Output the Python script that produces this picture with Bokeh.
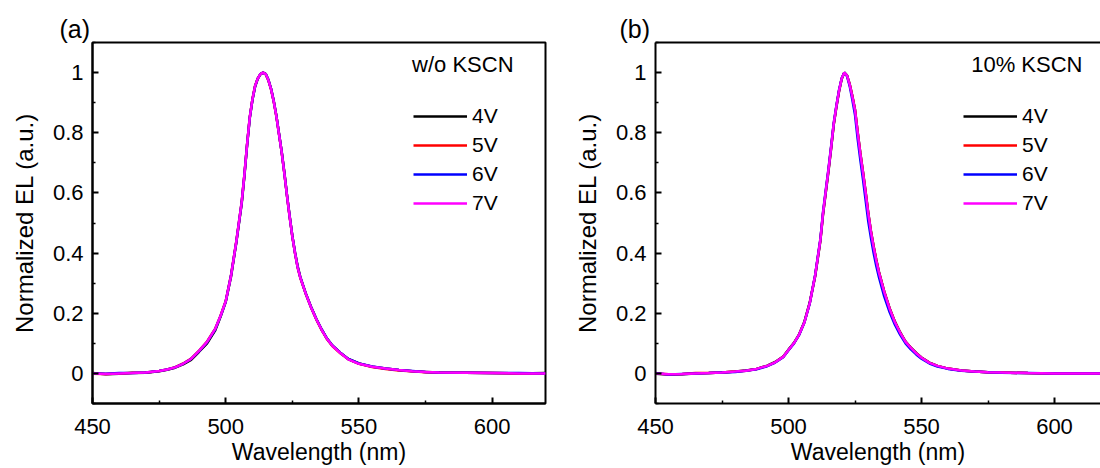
from bokeh.plotting import figure
from bokeh.models import (FixedTicker, CustomJSTickFormatter, Legend, LegendItem,
                          Label, LinearAxis, Range1d, ColumnDataSource)
from bokeh.layouts import row
from bokeh.embed import file_html
from bokeh.resources import INLINE

FONT = "Liberation Sans"

voltages = ["4V", "5V", "6V", "7V"]
colors = ["#000000", "#FF0000", "#0000FF", "#FF00FF"]
x_ticks = [450, 500, 550, 600]
x_minor = [475, 525, 575]
y_ticks = [0, 0.2, 0.4, 0.6, 0.8, 1.0]
y_minor = [-0.1, 0.1, 0.3, 0.5, 0.7, 0.9, 1.1]

# ---- panel (a): w/o KSCN ----
wl_a = [450, 455, 460, 465, 470, 475, 478, 481, 484, 487, 490, 493, 496, 498,
        500, 502, 504, 506, 507, 508, 509, 510, 511, 512, 513, 514, 515, 516,
        517, 518, 519, 520, 521, 522, 523, 524, 525, 526, 527, 528, 530, 532,
        534, 536, 538, 540, 543, 546, 550, 555, 560, 565, 570, 575, 580, 590,
        600, 610, 620]
a_4v = [0.001, -0.003, -0.001, 0.001, 0.002, 0.007, 0.012, 0.019, 0.030, 0.045, 0.072, 0.100, 0.142, 0.187,
        0.238, 0.322, 0.437, 0.565, 0.655, 0.757, 0.848, 0.908, 0.953, 0.979, 0.994, 1.000, 0.996, 0.976,
        0.947, 0.906, 0.857, 0.797, 0.737, 0.668, 0.592, 0.522, 0.457, 0.402, 0.356, 0.320, 0.267, 0.222,
        0.181, 0.146, 0.116, 0.093, 0.069, 0.048, 0.033, 0.022, 0.016, 0.011, 0.007, 0.005, 0.003, 0.002,
        0.001, 0.000, 0.001]
a_5v = [-0.001, -0.002, 0.000, 0.002, 0.003, 0.008, 0.013, 0.021, 0.033, 0.049, 0.076, 0.106, 0.148, 0.191,
        0.241, 0.328, 0.441, 0.571, 0.661, 0.761, 0.851, 0.911, 0.956, 0.981, 0.995, 1.000, 0.994, 0.974,
        0.944, 0.904, 0.854, 0.794, 0.734, 0.664, 0.589, 0.519, 0.454, 0.399, 0.351, 0.317, 0.265, 0.219,
        0.179, 0.144, 0.114, 0.091, 0.067, 0.047, 0.032, 0.021, 0.015, 0.010, 0.007, 0.004, 0.003, 0.002,
        0.001, 0.000, 0.000]
a_6v = [0.000, -0.001, 0.001, 0.001, 0.003, 0.008, 0.013, 0.020, 0.032, 0.048, 0.074, 0.104, 0.146, 0.189,
        0.239, 0.326, 0.439, 0.569, 0.659, 0.759, 0.849, 0.909, 0.954, 0.980, 0.995, 1.000, 0.995, 0.976,
        0.946, 0.906, 0.856, 0.796, 0.736, 0.666, 0.591, 0.521, 0.456, 0.401, 0.353, 0.319, 0.266, 0.221,
        0.181, 0.146, 0.116, 0.093, 0.069, 0.048, 0.033, 0.023, 0.016, 0.011, 0.008, 0.005, 0.003, 0.002,
        0.001, 0.001, 0.000]
a_7v = [0.000, -0.002, 0.000, 0.001, 0.003, 0.008, 0.013, 0.020, 0.032, 0.048, 0.075, 0.105, 0.147, 0.190,
        0.240, 0.325, 0.440, 0.570, 0.660, 0.760, 0.850, 0.910, 0.955, 0.980, 0.995, 1.000, 0.995, 0.975,
        0.945, 0.905, 0.855, 0.795, 0.735, 0.665, 0.590, 0.520, 0.455, 0.400, 0.352, 0.318, 0.266, 0.220,
        0.180, 0.145, 0.115, 0.092, 0.068, 0.047, 0.032, 0.022, 0.016, 0.011, 0.007, 0.005, 0.003, 0.002,
        0.001, 0.000, 0.000]

# ---- panel (b): 10% KSCN ----
wl_b = [450, 455, 460, 465, 470, 475, 480, 484, 488, 492, 495, 498, 500, 502, 504, 506, 508,
        510, 511, 512, 513, 514, 515, 516, 517, 518, 519, 520, 521, 522, 523, 524, 525, 526,
        527, 528, 529, 530, 531, 532, 533, 534, 536, 538, 540, 542, 544, 546, 548, 550,
        553, 556, 560, 565, 570, 575, 580, 590, 600, 610, 620]
b_4v = [-0.001, -0.004, -0.003, 0.000, 0.001, 0.003, 0.006, 0.010, 0.015, 0.026, 0.038, 0.056,
        0.079, 0.101, 0.130, 0.172, 0.236,
        0.322, 0.382, 0.442, 0.530, 0.600, 0.670, 0.746, 0.826, 0.885, 0.938, 0.979, 1.000, 0.991,
        0.962, 0.922, 0.877, 0.803, 0.733, 0.670, 0.603, 0.533, 0.473, 0.423, 0.378, 0.338,
        0.272, 0.217, 0.172, 0.136, 0.106, 0.086, 0.068, 0.053,
        0.036, 0.025, 0.016, 0.010, 0.006, 0.004, 0.003, 0.001, 0.000, 0.000, 0.001]
b_5v = [0.000, -0.003, -0.002, 0.001, 0.001, 0.003, 0.006, 0.009, 0.015, 0.025, 0.037, 0.055,
        0.078, 0.100, 0.129, 0.171, 0.235,
        0.324, 0.384, 0.444, 0.533, 0.603, 0.673, 0.748, 0.828, 0.887, 0.939, 0.980, 1.000, 0.990,
        0.961, 0.921, 0.876, 0.801, 0.731, 0.668, 0.601, 0.531, 0.471, 0.421, 0.376, 0.336,
        0.271, 0.216, 0.171, 0.135, 0.105, 0.085, 0.067, 0.052,
        0.035, 0.025, 0.016, 0.010, 0.006, 0.004, 0.003, 0.001, 0.000, 0.000, 0.000]
b_6v = [0.001, -0.004, -0.002, 0.000, 0.001, 0.003, 0.005, 0.009, 0.014, 0.024, 0.036, 0.054,
        0.077, 0.099, 0.128, 0.170, 0.233,
        0.326, 0.387, 0.448, 0.538, 0.608, 0.678, 0.753, 0.832, 0.890, 0.942, 0.981, 1.000, 0.988,
        0.955, 0.910, 0.860, 0.780, 0.710, 0.645, 0.575, 0.505, 0.450, 0.400, 0.357, 0.320,
        0.255, 0.204, 0.162, 0.128, 0.100, 0.080, 0.063, 0.049,
        0.033, 0.023, 0.015, 0.009, 0.006, 0.004, 0.002, 0.001, 0.000, 0.000, 0.000]
b_7v = [0.000, -0.003, -0.002, 0.000, 0.001, 0.003, 0.006, 0.009, 0.015, 0.025, 0.037, 0.055,
        0.078, 0.100, 0.129, 0.170, 0.234,
        0.325, 0.385, 0.445, 0.535, 0.605, 0.675, 0.750, 0.830, 0.888, 0.940, 0.980, 1.000, 0.990,
        0.960, 0.920, 0.875, 0.800, 0.730, 0.667, 0.600, 0.530, 0.470, 0.420, 0.375, 0.335,
        0.270, 0.215, 0.170, 0.135, 0.105, 0.085, 0.067, 0.052,
        0.035, 0.025, 0.016, 0.010, 0.006, 0.004, 0.003, 0.001, 0.000, 0.000, 0.000]


def style_axis(ax):
    ax.axis_line_width = 2
    ax.axis_line_color = "black"
    ax.major_tick_in = 6
    ax.major_tick_out = 0
    ax.minor_tick_in = 3
    ax.minor_tick_out = 0
    ax.major_tick_line_width = 2
    ax.minor_tick_line_width = 1.5
    ax.major_label_text_font = FONT
    ax.major_label_text_font_size = "22px"
    ax.major_label_text_color = "black"
    ax.axis_label_text_font = FONT
    ax.axis_label_text_font_style = "normal"
    ax.axis_label_text_color = "black"


def make_panel(wl, series, tag, tag_offset, note, x_end, frame_width, border_left, border_right,
               legend_x, note_x, full_outline):
    p = figure(frame_width=frame_width, frame_height=361,
               x_range=Range1d(450, x_end), y_range=Range1d(-0.1, 1.1),
               output_backend="svg", toolbar_location=None,
               min_border_left=border_left, min_border_right=border_right,
               min_border_top=42, min_border_bottom=65)
    p.grid.visible = False
    p.background_fill_color = "white"
    p.border_fill_color = "white"

    p.title.text = tag
    p.title.align = "left"
    p.title.offset = tag_offset
    p.title.standoff = 0
    p.title.text_font = FONT
    p.title.text_font_size = "25px"
    p.title.text_font_style = "normal"
    p.title.text_color = "black"

    p.xaxis.ticker = FixedTicker(ticks=x_ticks, minor_ticks=x_minor)
    p.yaxis.ticker = FixedTicker(ticks=y_ticks, minor_ticks=y_minor)
    p.yaxis.formatter = CustomJSTickFormatter(code="return tick.toFixed(1).replace(/\\.0$/, '');")
    p.xaxis.axis_label = "Wavelength (nm)"
    p.yaxis.axis_label = "Normalized EL (a.u.)"
    for ax in p.xaxis:
        style_axis(ax)
        ax.major_label_standoff = 15
        ax.axis_label_standoff = 2
        ax.axis_label_text_font_size = "23px"
    for ax in p.yaxis:
        style_axis(ax)
        ax.major_label_standoff = 9
        ax.axis_label_standoff = 12
        ax.axis_label_text_font_size = "24px"

    if full_outline:
        p.outline_line_color = "black"
        p.outline_line_width = 2
    else:
        p.outline_line_color = None
        top = LinearAxis(ticker=FixedTicker(ticks=[], minor_ticks=[]),
                         major_label_text_font_size="0px",
                         major_label_standoff=0, axis_label_standoff=0,
                         axis_line_width=2, axis_line_color="black",
                         major_tick_in=0, major_tick_out=0,
                         minor_tick_in=0, minor_tick_out=0)
        p.add_layout(top, "above")

    items = []
    for v, c, ys in zip(voltages, colors, series):
        src = ColumnDataSource(dict(x=wl, y=ys))
        r = p.line("x", "y", source=src, line_color=c, line_width=2.5)
        items.append(LegendItem(label=v, renderers=[r]))

    legend = Legend(items=items, location=(legend_x, 188),
                    border_line_color=None, background_fill_alpha=0,
                    padding=0, margin=0, spacing=5,
                    glyph_width=54, glyph_height=20, label_height=20,
                    label_standoff=5, label_text_font=FONT,
                    label_text_font_size="21px", label_text_color="black")
    p.add_layout(legend)

    p.add_layout(Label(x=note_x, y=1.028, text=note, text_align="right",
                       text_baseline="middle", text_font=FONT,
                       text_font_size="22px", text_color="black"))
    return p


p1 = make_panel(wl_a, [a_4v, a_5v, a_6v, a_7v], "(a)", -33, "w/o KSCN",
                620, 453, 92, 23, 321, 608.0, True)
p2 = make_panel(wl_b, [b_4v, b_5v, b_6v, b_7v], "(b)", -36, "10% KSCN",
                450 + 445 / 2.66, 445, 87, 0, 308, 610.5, False)

layout = row(p1, p2)
open("out.html", "w").write(file_html(layout, INLINE))
